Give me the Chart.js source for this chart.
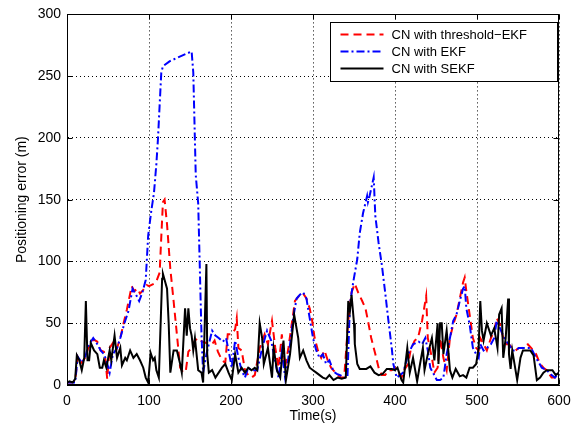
<!DOCTYPE html>
<html>
<head>
<meta charset="utf-8">
<script src="https://cdn.jsdelivr.net/npm/chart.js@4.4.0/dist/chart.umd.min.js"></script>
<style>
  html, body { margin: 0; padding: 0; background: #fff; }
  #wrap { width: 579px; height: 427px; }
</style>
</head>
<body>
<div id="wrap"><canvas id="errChart"></canvas></div>
<script>
// ---- data ----
const xTicks = [0, 100, 200, 300, 400, 500, 600];
const yTicks = [0, 50, 100, 150, 200, 250, 300];

const seriesNames = ['CN with threshold\u2212EKF', 'CN with EKF', 'CN with SEKF'];

// CN with threshold-EKF (red dashed)
const thrTime = [0,5,10,13,18,22,26,29,32,37,41,45,47,49,52,57,61,65,69,73,77,79,82,86,89,93,97,100,106,109,113,115,117,119,122,126,130,134,138,142,145,148,152,156,160,165,170,177,180,184,189,193,196,200,205,207,209,213,217,221,225,229,235,241,245,250,254,258,262,266,270,274,278,284,288,292,296,299,302,306,310,314,318,322,326,330,334,338,343,347,351,355,360,364,367,371,376,380,384,388,392,396,400,404,408,411,416,419,424,428,433,437,438,440,445,448,452,455,459,463,467,471,475,479,483,485,487,491,495,499,502,504,508,512,517,521,524,528,532,536,539,543,547,551,555,562,566,572,577,581,585,591,595,600];
const thrErr  = [2,2,3,23,18,22,30,32,37,35,28,27,20,5,30,35,30,38,50,61,74,80,76,78,74,77,81,80,82,84,91,120,148,150,130,94,68,41,14,10,12,27,30,36,38,35,34,33,36,27,20,18,41,41,45,54,30,28,12,8,6,8,30,41,33,52,30,14,41,14,30,49,68,73,74,70,62,52,38,28,22,28,20,14,11,8,6,6,52,75,82,75,68,62,52,38,25,14,8,8,12,12,14,10,6,12,17,28,36,38,52,68,72,38,22,10,14,38,22,12,38,49,57,70,83,87,76,57,38,30,28,38,33,28,38,44,54,49,38,33,33,30,28,30,30,33,30,25,17,14,12,6,6,8];

// CN with EKF (blue dash-dot)
const ekfTime = [0,5,10,13,18,22,26,29,32,37,41,45,48,52,56,61,65,70,75,80,85,88,92,96,99,103,106,109,111,113,115,117,125,135,145,152,154,157,160,162,164,166,170,177,181,185,190,194,197,201,205,209,213,217,221,225,232,238,244,249,253,258,262,266,270,276,280,284,288,292,296,300,304,308,312,316,320,325,329,333,338,342,345,349,354,357,361,366,367,369,374,376,380,384,388,392,396,398,402,406,410,416,422,429,433,437,440,443,447,451,455,459,463,467,471,475,479,483,485,487,491,495,499,502,504,508,512,517,521,524,528,532,536,539,543,547,551,555,562,566,572,579,585,591,595,600];
const ekfErr  = [2,2,2,23,18,22,32,35,38,33,28,25,20,10,25,30,38,50,60,78,72,68,75,85,121,142,155,179,200,227,253,258,262,265,268,270,253,170,147,94,41,10,25,44,40,38,35,38,28,14,36,22,12,6,14,12,12,30,44,36,22,6,27,6,22,55,70,73,75,70,54,38,28,22,25,17,20,11,9,8,6,6,65,83,102,123,139,153,148,153,168,137,115,97,75,52,30,17,6,8,10,25,33,35,33,38,28,14,9,4,4,6,25,38,52,57,68,78,80,62,49,30,25,22,33,28,30,33,38,52,46,40,35,33,28,28,30,30,30,30,22,14,12,8,6,10];

// CN with SEKF (black solid)
const sekfTime = [0,3,7,10,12,15,18,21,23,25,27,29,33,37,40,43,45,48,52,54,58,61,65,67,71,73,77,81,85,89,93,96,99,102,105,107,109,112,116,117,122,124,126,130,134,138,140,144,146,148,150,152,154,156,158,160,164,166,170,171,173,177,181,185,189,193,197,201,205,209,213,217,221,225,229,232,235,238,240,245,250,252,256,260,264,267,272,277,282,284,288,292,296,300,304,308,312,316,320,325,330,335,340,343,345,347,350,351,354,357,361,365,370,375,380,385,390,396,400,403,408,410,415,418,422,427,430,434,436,440,445,448,452,453,455,457,459,463,467,470,474,479,483,487,491,495,499,502,504,506,508,512,517,521,525,527,530,532,535,538,539,541,543,549,553,556,559,565,569,573,577,581,585,592,596,600];
const sekfErr  = [2,3,2,5,24,20,12,22,68,20,20,34,28,25,14,14,20,14,28,20,40,22,30,16,22,20,28,22,25,20,14,6,2,26,20,22,12,6,86,90,78,50,10,28,28,17,10,62,40,62,46,40,28,38,25,12,10,2,98,25,10,12,6,10,14,17,10,4,25,10,14,10,14,12,14,12,50,38,17,30,6,30,12,6,36,4,25,57,38,22,28,20,14,12,10,8,6,5,8,4,6,5,6,68,60,73,50,33,17,13,13,13,15,10,8,9,13,13,12,14,4,2,30,10,22,3,15,30,12,25,38,20,50,17,50,50,25,44,12,6,13,7,8,6,14,14,17,30,68,44,36,50,40,46,30,57,62,22,38,70,25,13,28,4,22,28,28,28,24,4,6,10,12,12,8,10];

const toPoints = (ts, vs) => ts.map((t, i) => ({ x: t, y: vs[i] }));

const styles = [
  { color: '#ff0000', dash: [8, 5] },
  { color: '#0000ff', dash: [8, 3, 2, 3] },
  { color: '#000000', dash: [] }
];

Chart.defaults.font.family = "'Liberation Sans', Arial, sans-serif";
Chart.defaults.color = '#000';

// box, inward ticks and the legend, drawn MATLAB style
const framePlugin = {
  id: 'frame',
  afterDatasetsDraw(chart) {
    const { ctx, chartArea: a, scales: { x, y } } = chart;
    ctx.save();
    ctx.setLineDash([]);
    ctx.strokeStyle = '#000';
    ctx.lineWidth = 1;
    const L = Math.round(a.left) + 0.5, R = Math.round(a.right) - 0.5;
    const T = Math.round(a.top) + 0.5, B = Math.round(a.bottom) - 0.5;
    ctx.strokeRect(L, T, R - L, B - T);
    ctx.beginPath();
    xTicks.forEach(v => {
      const px = Math.round(x.getPixelForValue(v)) + 0.5;
      ctx.moveTo(px, B); ctx.lineTo(px, B - 5);
      ctx.moveTo(px, T); ctx.lineTo(px, T + 5);
    });
    yTicks.forEach(v => {
      const py = Math.round(y.getPixelForValue(v)) + 0.5;
      ctx.moveTo(L, py); ctx.lineTo(L + 5, py);
      ctx.moveTo(R, py); ctx.lineTo(R - 5, py);
    });
    ctx.stroke();

    // legend box
    const bx = Math.round(a.right) - 229 + 0.5, by = Math.round(a.top) + 8 + 0.5;
    const bw = 227, bh = 59;
    ctx.fillStyle = '#fff';
    ctx.fillRect(bx, by, bw, bh);
    ctx.strokeRect(bx, by, bw, bh);
    ctx.font = "13px 'Liberation Sans', Arial, sans-serif";
    ctx.textBaseline = 'middle';
    ctx.textAlign = 'left';
    seriesNames.forEach((name, i) => {
      const ly = by + 12 + i * 17;
      ctx.strokeStyle = styles[i].color;
      ctx.lineWidth = 2;
      ctx.setLineDash(styles[i].dash);
      ctx.beginPath();
      ctx.moveTo(bx + 10, ly); ctx.lineTo(bx + 53, ly);
      ctx.stroke();
      ctx.fillStyle = '#000';
      ctx.fillText(name, bx + 61, ly + 1);
    });
    ctx.restore();
  }
};

const seriesData = [
  toPoints(thrTime, thrErr),
  toPoints(ekfTime, ekfErr),
  toPoints(sekfTime, sekfErr)
];
const drawOrder = [2, 1, 0];

new Chart(document.getElementById('errChart'), {
  type: 'line',
  data: {
    datasets: seriesNames.map((name, i) => ({
      label: name,
      data: seriesData[i],
      borderColor: styles[i].color,
      borderDash: styles[i].dash,
      borderWidth: 2,
      pointRadius: 0,
      tension: 0,
      fill: false,
      order: drawOrder[i]
    }))
  },
  options: {
    responsive: true,
    maintainAspectRatio: false,
    animation: false,
    devicePixelRatio: 1,
    layout: { padding: { top: 9, right: 20, left: 0, bottom: 0 } },
    plugins: { legend: { display: false }, tooltip: { enabled: false } },
    scales: {
      x: {
        type: 'linear', min: 0, max: 600,
        afterBuildTicks: s => { s.ticks = xTicks.map(v => ({ value: v })); },
        afterFit: s => { s.height = 42; },
        ticks: { font: { size: 14 }, padding: 8, maxRotation: 0 },
        grid: { color: '#000', lineWidth: 1, drawTicks: false },
        border: { display: true, color: '#000', dash: [1, 3] },
        title: { display: true, text: 'Time(s)', font: { size: 14 }, padding: { top: 0, bottom: 2 } }
      },
      y: {
        type: 'linear', min: 0, max: 300,
        afterBuildTicks: s => { s.ticks = yTicks.map(v => ({ value: v })); },
        afterFit: s => { s.width = 67; },
        ticks: { font: { size: 14 }, padding: 6 },
        grid: { color: '#000', lineWidth: 1, drawTicks: false },
        border: { display: true, color: '#000', dash: [1, 3] },
        title: { display: true, text: 'Positioning error (m)', font: { size: 14 }, padding: { top: 14, bottom: 0 } }
      }
    }
  },
  plugins: [framePlugin]
});
</script>
</body>
</html>
